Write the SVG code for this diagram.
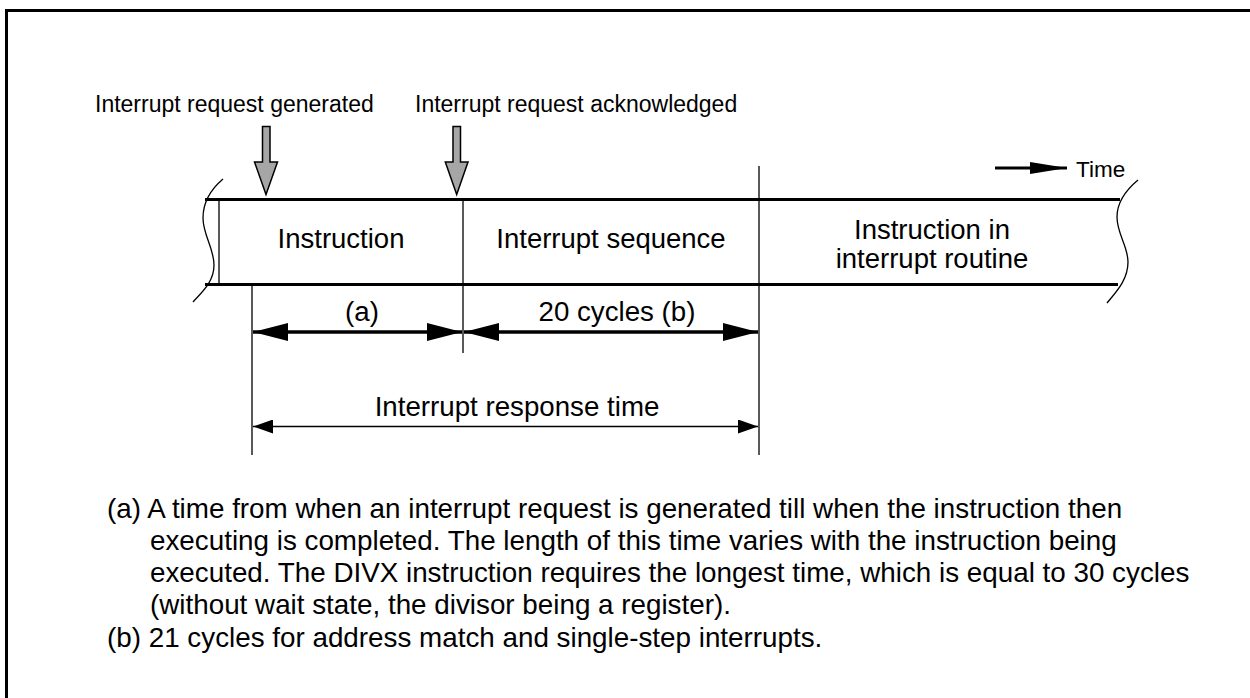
<svg xmlns="http://www.w3.org/2000/svg" width="1250" height="698" viewBox="0 0 1250 698">
<defs>
<style>
text{font-family:"Liberation Sans",Arial,sans-serif;fill:#000}
.lbl{font-size:23px}
.band{font-size:27.5px;text-anchor:middle}
.dim{font-size:27.7px;text-anchor:middle}
.note{font-size:27.8px}
.thin{stroke:#000;stroke-width:1.3;fill:none}
.thick{stroke:#000;stroke-width:3;fill:none}
.gray{fill:#a6a6a6;stroke:#000;stroke-width:1.5}
</style>
<marker id="bigHead" viewBox="0 0 35 18" refX="35" refY="9" markerWidth="35" markerHeight="18" markerUnits="userSpaceOnUse" orient="auto-start-reverse">
<path d="M0,0 L35,9 L0,18 Z" fill="#000"/>
</marker>
<marker id="smallHead" viewBox="0 0 20 14" refX="20" refY="7" markerWidth="20" markerHeight="14" markerUnits="userSpaceOnUse" orient="auto-start-reverse">
<path d="M0,0 L20,7 L0,14 Z" fill="#000"/>
</marker>
<marker id="timeHead" viewBox="0 0 37 12" refX="37" refY="6" markerWidth="37" markerHeight="12" markerUnits="userSpaceOnUse" orient="auto">
<path d="M0,0 L37,6 L0,12 Z" fill="#000"/>
</marker>
</defs>
<rect width="1250" height="698" fill="#fff"/>
<!-- frame -->
<path d="M6.5,698 V10.5 H1250" fill="none" stroke="#000" stroke-width="3"/>

<g id="band">
<line class="thick" x1="205" y1="199.5" x2="1120" y2="199.5"/>
<line class="thick" x1="205" y1="284.5" x2="1118" y2="284.5"/>
<path class="thin" d="M223,179 C210,190 203,203 203,218 C203,235 214,248 214,265 C214,282 202,292 193,302"/>
<path class="thin" d="M1138,180 C1126,190 1117,202 1117,217 C1117,234 1128,246 1128,262 C1128,280 1116,292 1107,303"/>
<line class="thin" x1="219" y1="199" x2="219" y2="285"/>
</g>

<g id="node-instruction">
<text class="band" x="341" y="248">Instruction</text>
</g>
<g id="node-sequence">
<text class="band" x="611" y="248">Interrupt sequence</text>
</g>
<g id="node-routine">
<text class="band" x="932" y="239">Instruction in</text>
<text class="band" x="932" y="268">interrupt routine</text>
</g>

<g id="label-generated">
<text class="lbl" x="95" y="112">Interrupt request generated</text>
<path class="gray" d="M262.5,126.5 H270 V162 H277.5 L266,194.5 L254.5,162 H262.5 Z"/>
</g>
<g id="label-acknowledged">
<text class="lbl" x="415" y="112">Interrupt request acknowledged</text>
<path class="gray" d="M453,126.5 H460.5 V162 H468 L456.7,194.5 L445.3,162 H453 Z"/>
</g>

<g id="time">
<line x1="995" y1="168" x2="1067" y2="168" stroke="#000" stroke-width="3" marker-end="url(#timeHead)"/>
<text x="1076" y="177" style="font-size:22.5px">Time</text>
</g>

<g id="connectors">
<line class="thin" x1="252" y1="285" x2="252" y2="455"/>
<line class="thin" x1="463" y1="199" x2="463" y2="353"/>
<line class="thin" x1="759" y1="166" x2="759" y2="455"/>
<line x1="253" y1="332" x2="462" y2="332" stroke="#000" stroke-width="3.5" marker-start="url(#bigHead)" marker-end="url(#bigHead)"/>
<line x1="464" y1="332" x2="758" y2="332" stroke="#000" stroke-width="3.5" marker-start="url(#bigHead)" marker-end="url(#bigHead)"/>
<line x1="253" y1="426.5" x2="758" y2="426.5" stroke="#000" stroke-width="1.3" marker-start="url(#smallHead)" marker-end="url(#smallHead)"/>
</g>

<g id="dim-labels">
<text class="dim" x="362" y="321">(a)</text>
<text class="dim" x="617" y="321">20 cycles (b)</text>
<text class="dim" x="517" y="416">Interrupt response time</text>
</g>

<g id="notes">
<text class="note" x="107" y="518">(a) A time from when an interrupt request is generated till when the instruction then</text>
<text class="note" x="150" y="550">executing is completed. The length of this time varies with the instruction being</text>
<text class="note" x="150" y="582">executed. The DIVX instruction requires the longest time, which is equal to 30 cycles</text>
<text class="note" x="150" y="614">(without wait state, the divisor being a register).</text>
<text class="note" x="107" y="647">(b) 21 cycles for address match and single-step interrupts.</text>
</g>
</svg>
